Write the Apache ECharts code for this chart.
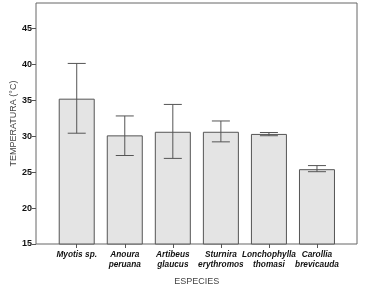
<!DOCTYPE html>
<html>
<head>
<meta charset="utf-8">
<script src="https://cdn.jsdelivr.net/npm/echarts@6/dist/echarts.min.js"></script>
<style>
  html, body { margin: 0; padding: 0; background: #fff; }
  #chart { width: 373px; height: 288px; }
</style>
</head>
<body>
<div id="chart"></div>
<script>
// especies y temperatura media con intervalo de error
const especies = ['Myotis sp.', 'Anoura\nperuana', 'Artibeus\nglaucus', 'Sturnira\nerythromos', 'Lonchophylla\nthomasi', 'Carollia\nbrevicauda']
const media = [35.2, 30.1, 30.6, 30.6, 30.3, 25.4]
const errSup = [40.1, 32.8, 34.4, 32.1, 30.5, 25.9]
const errInf = [30.4, 27.3, 26.9, 29.2, 30.05, 25.05]
const yTicks = [15, 20, 25, 30, 35, 40, 45]

const chart = echarts.init(document.getElementById('chart'))

const errData = especies.map((e, i) => [i, errInf[i], errSup[i]])

const option = {
  backgroundColor: '#fff',
  animation: false,
  grid: [
    // marco exterior
    { left: 36, right: 16, top: 3, bottom: 44, show: true, borderColor: '#666', borderWidth: 1,
      outerBoundsMode: 'none', containLabel: false },
    // zona de barras
    { left: 52.7, right: 32, top: 3, bottom: 44, outerBoundsMode: 'none', containLabel: false }
  ],
  xAxis: [
    { type: 'value', gridIndex: 0, show: false, min: 0, max: 1 },
    {
      type: 'category', gridIndex: 1, data: especies,
      name: 'ESPECIES', nameLocation: 'middle', nameGap: 33, nameMoveOverlap: false,
      nameTextStyle: { color: '#444', fontSize: 9, fontFamily: 'Liberation Sans' },
      axisLine: { show: false },
      axisTick: { show: true, alignWithLabel: true, length: 4, lineStyle: { color: '#555' } },
      axisLabel: {
        color: '#111', fontSize: 8.3, fontWeight: 'bold', fontStyle: 'italic',
        fontFamily: 'Liberation Sans', margin: 6, interval: 0, lineHeight: 9.5
      }
    }
  ],
  yAxis: [
    {
      type: 'value', gridIndex: 0, min: 15, max: 48.5,
      name: 'TEMPERATURA (°C)', nameLocation: 'middle', nameGap: 18, nameMoveOverlap: false,
      nameTextStyle: { color: '#444', fontSize: 9, fontFamily: 'Liberation Sans' },
      axisLine: { show: false },
      axisTick: { show: true, length: 4, lineStyle: { color: '#555' },
        customValues: yTicks },
      axisLabel: { color: '#111', fontSize: 9, fontWeight: 'bold', fontFamily: 'Liberation Sans',
        margin: 4, customValues: yTicks },
      splitLine: { show: false }
    },
    { type: 'value', gridIndex: 1, min: 15, max: 48.5, show: false, splitLine: { show: false } }
  ],
  series: [
    {
      type: 'bar', xAxisIndex: 1, yAxisIndex: 1, data: media, barWidth: 36,
      itemStyle: { color: '#e4e4e4', borderColor: '#555', borderWidth: 1 }
    },
    {
      type: 'custom', xAxisIndex: 1, yAxisIndex: 1, data: errData,
      renderItem: function (params, api) {
        const x = api.coord([api.value(0), api.value(1)])[0]
        const yLo = api.coord([api.value(0), api.value(1)])[1]
        const yHi = api.coord([api.value(0), api.value(2)])[1]
        const hw = 9
        const st = { stroke: '#555', lineWidth: 1 }
        return {
          type: 'group',
          children: [
            { type: 'line', shape: { x1: x, y1: yHi, x2: x, y2: yLo }, style: st },
            { type: 'line', shape: { x1: x - hw, y1: yHi, x2: x + hw, y2: yHi }, style: st },
            { type: 'line', shape: { x1: x - hw, y1: yLo, x2: x + hw, y2: yLo }, style: st }
          ]
        }
      },
      z: 5
    }
  ]
}
chart.setOption(option)
</script>
</body>
</html>
